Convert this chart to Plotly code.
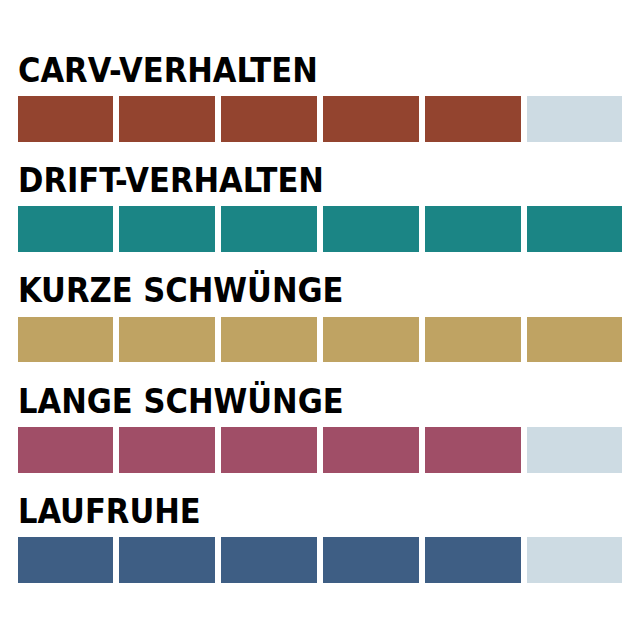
import plotly.graph_objects as go

categories = ["CARV-VERHALTEN", "DRIFT-VERHALTEN", "KURZE SCHWÜNGE", "LANGE SCHWÜNGE", "LAUFRUHE"]
scores = [5, 6, 6, 5, 5]
max_score = 6
colors = ["#93442f", "#1b8585", "#bfa363", "#a04e67", "#3e5e84"]
empty_color = "#cddbe3"

rows = list(range(len(categories)))

fig = go.Figure()
for j in range(max_score):
    fig.add_trace(go.Bar(
        y=rows,
        x=[1] * len(categories),
        orientation="h",
        width=0.469,
        marker=dict(
            color=[colors[i] if j < scores[i] else empty_color for i in rows],
            line=dict(color="white", width=6),
        ),
        hoverinfo="skip",
        showlegend=False,
    ))

for i, cat in enumerate(categories):
    fig.add_annotation(
        x=0.0127, xref="paper", xanchor="left",
        y=i - 0.445, yref="y", yanchor="middle",
        text=cat, showarrow=False,
        font=dict(family="Liberation Sans Narrow, DejaVu Sans Condensed, Arial Narrow, sans-serif",
                  size=34, color="black", weight=900),
    )

fig.update_layout(
    barmode="stack",
    width=632, height=632,
    margin=dict(l=0, r=0, t=0, b=0),
    paper_bgcolor="white", plot_bgcolor="white",
    bargap=0,
    xaxis=dict(range=[-0.0638, 6.1426], visible=False, fixedrange=True),
    yaxis=dict(range=[4.7265, -1.0059], visible=False, fixedrange=True),
)

fig.write_html("out.html")
